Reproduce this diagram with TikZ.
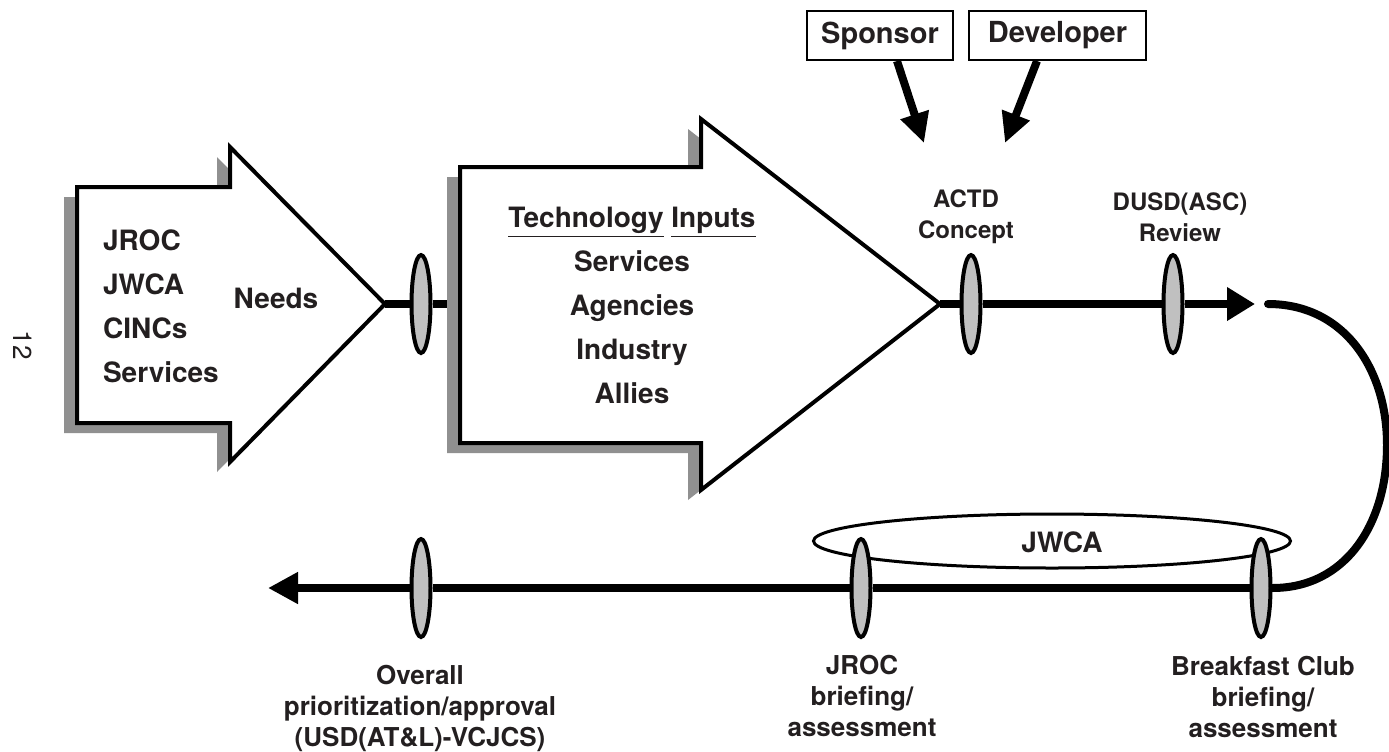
\documentclass[tikz,border=0pt]{standalone}
\usepackage{fontspec}
\setmainfont{TeX Gyre Heros}
\usetikzlibrary{shapes.geometric, arrows.meta, positioning}
\definecolor{ink}{HTML}{231F20}
\definecolor{shadowgray}{HTML}{909090}
\definecolor{stonegray}{HTML}{C0C0C0}

\tikzset{
  milestone/.style={ellipse, draw=black, line width=2pt, fill=stonegray, inner sep=0pt, minimum width=9.5pt, minimum height=49pt},
  flow/.style={line width=4pt},
  feed/.style={line width=4pt, -{Triangle[length=15pt,width=14pt]}},
  bigarrow/.style={draw=black, fill=white, line width=2pt, line join=miter},
  tagbox/.style={draw=black, line width=1pt, minimum height=24.5pt, inner sep=0pt, text=ink, font=\bfseries\fontsize{14.5}{17}\selectfont},
  biglist/.style={text=ink, font=\bfseries\fontsize{14}{22}\selectfont},
  steplabel/.style={text=ink, align=center, font=\bfseries\fontsize{12}{15.5}\selectfont},
  reviewlabel/.style={text=ink, align=center, font=\bfseries\fontsize{13}{15.5}\selectfont}
}

\begin{document}
\begin{tikzpicture}[x=0.5pt, y=-0.5pt]
\useasboundingbox (0,0) rectangle (1389,751);

% Page number
\node[rotate=-90, text=ink, font=\fontsize{13}{13}\selectfont] (page) at (23,345) {12};

% Needs arrow
\fill[shadowgray, shift={(-13,10)}] (77,187) -- (230,187) -- (230,147) -- (385,304) -- (230,462) -- (230,423) -- (77,423) -- cycle;
\draw[bigarrow] (77,187) -- (230,187) -- (230,147) -- (385,304) -- (230,462) -- (230,423) -- (77,423) -- cycle;
\coordinate (needs tip) at (385,304);
\node[biglist, align=left, anchor=west] (sources) at (96,306) {JROC\\JWCA\\CINCs\\Services};
\node[biglist] (needs) at (276,298) {Needs};

% Link to technology arrow
\coordinate (tech in) at (460,304);
\node[milestone] (needs ms) at (421,304) {};
\draw[flow] (needs tip) -- (needs ms) -- (tech in);

% Technology inputs arrow
\fill[shadowgray, shift={(-13,10)}] (460,167) -- (701,167) -- (701,119) -- (940,304) -- (701,490) -- (701,443) -- (460,443) -- cycle;
\draw[bigarrow] (460,167) -- (701,167) -- (701,119) -- (940,304) -- (701,490) -- (701,443) -- (460,443) -- cycle;
\coordinate (tech tip) at (940,304);
\node[biglist, align=center] (inputs) at (632,305) {\underline{Technology} \underline{Inputs}\\Services\\Agencies\\Industry\\Allies};

% Sponsor and developer
\node[tagbox, minimum width=73pt] (sponsor) at (880,35.5) {Sponsor};
\node[tagbox, minimum width=88.5pt] (developer) at (1057.5,35.5) {Developer};
\coordinate (sponsor in) at (924,143);
\coordinate (developer in) at (1005,143);
\draw[feed] ([xshift=8.5pt]sponsor.south) -- (sponsor in);
\draw[feed] ([xshift=-10.25pt]developer.south) -- (developer in);

% Upper track
\node[milestone] (actd) at (971,304) {};
\node[milestone] (dusd) at (1173,304) {};
\coordinate (loop in) at (1255,304);
\coordinate (loop out) at (1268,304);
\draw[flow, -{Triangle[length=14pt,width=16pt]}] (tech tip) -- (actd) -- (dusd) -- (loop in);
\node[steplabel] (actd label) at (966,217) {ACTD\\Concept};
\node[steplabel] (dusd label) at (1180,217) {DUSD(ASC)\\Review};

% JWCA loop
\node[ellipse, draw=black, line width=1.5pt, fill=white, minimum width=238.5pt, minimum height=27pt, inner sep=0pt] (jwca) at (1052,541) {};
\node[biglist] at (1062,542) {JWCA};

% Lower track
\node[milestone] (club) at (1261,588) {};
\node[milestone] (jroc) at (861,588) {};
\node[milestone] (overall) at (421,588) {};
\coordinate (approval end) at (268,588);
\draw[flow, line cap=round] (loop out) .. controls (1345,304) and (1387,370) .. (1387,445) .. controls (1387,525) and (1345,588) .. (club.east);
\draw[flow, -{Triangle[length=15pt,width=15pt]}] (club) -- (jroc) -- (overall) -- (approval end);
\node[reviewlabel] (overall label) at (420,708) {Overall\\prioritization/approval\\(USD(AT\&L)-VCJCS)};
\node[reviewlabel] (jroc label) at (862,696) {JROC\\briefing/\\assessment};
\node[reviewlabel] (club label) at (1263,697) {Breakfast Club\\briefing/\\assessment};
\end{tikzpicture}
\end{document}
